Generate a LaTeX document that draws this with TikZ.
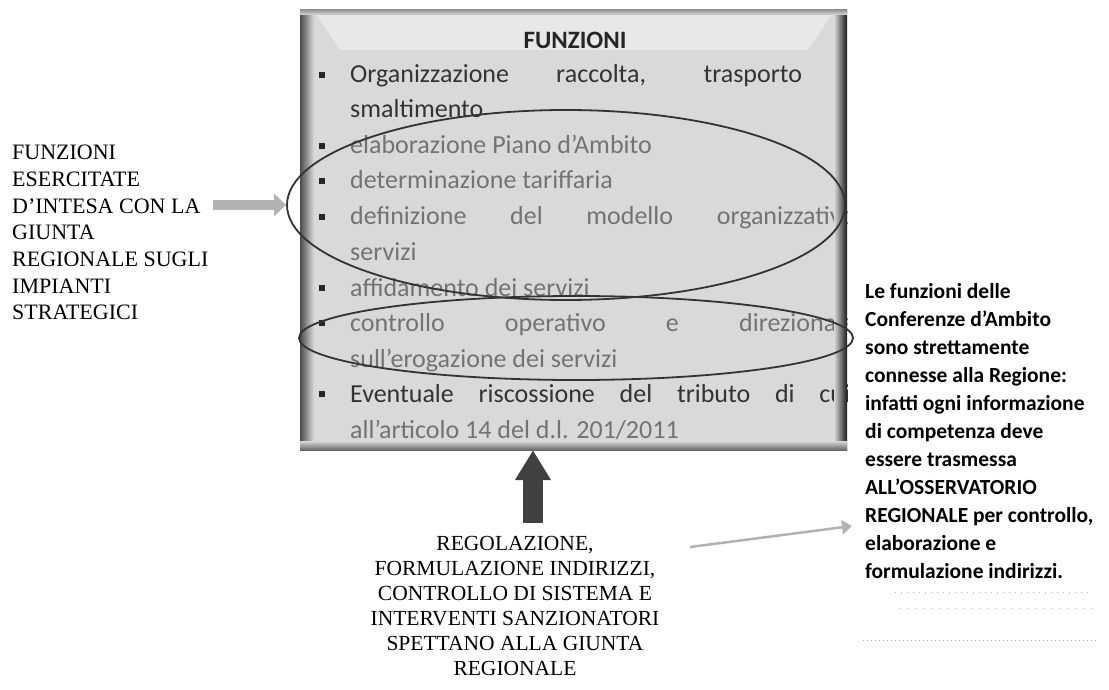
\documentclass[tikz,border=0pt]{standalone}
\usepackage{fontspec}
\setmainfont{Carlito}
\newfontfamily\slabfont{Liberation Serif}
\usetikzlibrary{shapes.geometric,arrows.meta,positioning}

\tikzset{
  boxtext/.style={anchor=base west, inner sep=0pt, text=black!80, font=\fontsize{26}{32}\selectfont},
  fadetext/.style={boxtext, text=black!55},
  sidelabel/.style={inner sep=0pt, font=\slabfont\fontsize{22}{26.7}\selectfont},
  notetext/.style={anchor=north west, inner sep=0pt, align=left, font=\bfseries\fontsize{21.5}{28}\selectfont},
  ring/.style={ellipse, draw=black!80, line width=1.8pt, inner sep=0pt},
  sidearrow/.style={draw=gray!60, line width=10pt, -{Triangle[length=12pt,width=22pt]}},
  uparrow/.style={draw=black!75, line width=20pt, -{Triangle[length=30pt,width=34pt]}},
  notearrow/.style={draw=gray!60, line width=2.5pt, -{Triangle[length=10pt,width=14pt]}}
}

\begin{document}
\begin{tikzpicture}[x=1pt,y=-1pt]

    \useasboundingbox (0,0) rectangle (1109,690);

    % The grey box
    \node[fill=gray!30, minimum width=547pt, minimum height=440pt, inner sep=0pt] (box) at (573.5,230) {};
    \fill[gray!18] (316,14) -- (832,14) -- (808,50) -- (340,50) -- cycle;

    \begin{scope}
    \clip (300,10) rectangle (847,450);

    % Title and list
    \node[font=\bfseries\fontsize{25}{30}\selectfont, text=black!85] (title) at (575,40) {FUNZIONI};

    \node[boxtext] (l1) at (350,83) {\makebox[512pt][s]{Organizzazione raccolta, trasporto e}};
    \node[boxtext] (l2) at (350,118) {smaltimento};
    \node[fadetext] (l3) at (350,154) {elaborazione Piano d’Ambito};
    \node[fadetext] (l4) at (350,189) {determinazione tariffaria};
    \node[fadetext] (l5) at (350,225) {\makebox[505pt][s]{definizione del modello organizzativo}};
    \node[fadetext] (l6) at (350,260) {servizi};
    \node[fadetext] (l7) at (350,296) {affidamento dei servizi};
    \node[fadetext] (l8) at (350,331) {\makebox[505pt][s]{controllo operativo e direzionale}};
    \node[fadetext] (l9) at (350,367) {sull’erogazione dei servizi};
    \node[boxtext] (l10) at (350,402) {\makebox[500pt][s]{Eventuale riscossione del tributo di cui}};
    \node[fadetext] (l11) at (350,438) {all’articolo 14 del d.l. 201/2011};

    % Bullets
    \fill[black!85] (319,72) rectangle (325,78);
    \fill[black!85] (319,143) rectangle (325,149);
    \fill[black!85] (319,178) rectangle (325,184);
    \fill[black!85] (319,214) rectangle (325,220);
    \fill[black!85] (319,285) rectangle (325,291);
    \fill[black!85] (319,320) rectangle (325,326);
    \fill[black!85] (319,391) rectangle (325,397);

    % Dark edges of the box
    \shade[left color=black!70, right color=gray!30] (300,10) rectangle (314,450);
    \shade[left color=gray!30, right color=black!90] (834,10) rectangle (847,450);
    \shade[top color=black!40, bottom color=gray!30] (300,10) rectangle (847,15);
    \shade[top color=gray!30, bottom color=black!60] (300,441) rectangle (847,450);
    \end{scope}

    % Rings round the functions
    \node[ring, minimum width=558pt, minimum height=190pt] (intesa) at (566,205) {};
    \node[ring, minimum width=554pt, minimum height=84pt] (controllo) at (576,338) {};

    % Labels
    \node[sidelabel, anchor=north west, align=left] (intesalbl) at (12,145)
        {FUNZIONI\\ESERCITATE\\D’INTESA CON LA\\GIUNTA\\REGIONALE SUGLI\\IMPIANTI\\STRATEGICI};
    \node[sidelabel, anchor=north, align=center, font=\slabfont\fontsize{21.5}{25}\selectfont] (regola) at (515,536)
        {REGOLAZIONE,\\FORMULAZIONE INDIRIZZI,\\CONTROLLO DI SISTEMA E\\INTERVENTI SANZIONATORI\\SPETTANO ALLA GIUNTA\\REGIONALE};
    \node[notetext] (nota) at (865,283)
        {Le funzioni delle\\Conferenze d’Ambito\\sono strettamente\\connesse alla Regione:\\infatti ogni informazione\\di competenza deve\\essere trasmessa\\ALL’OSSERVATORIO\\REGIONALE per controllo,\\elaborazione e\\formulazione indirizzi.};

    % Arrows
    \coordinate (ltail) at (213,205);
    \draw[sidearrow] (ltail) -- (intesa.west);

    \coordinate (utail) at (533,523);
    \draw[uparrow] (utail) -- (utail |- box.south);

    \coordinate (rtail) at (690,547);
    \coordinate (rhead) at (852,526);
    \draw[notearrow] (rtail) -- (rhead);

    % Faint dots
    \draw[gray!55, line width=0.8pt, dash pattern=on 1pt off 5pt] (895,592) -- (1093,592);
    \draw[gray!55, line width=0.8pt, dash pattern=on 1pt off 7pt] (900,608) -- (1093,608);
    \draw[gray!60, line width=1pt, dash pattern=on 1pt off 3pt] (863,640) -- (1097,640);

\end{tikzpicture}
\end{document}
